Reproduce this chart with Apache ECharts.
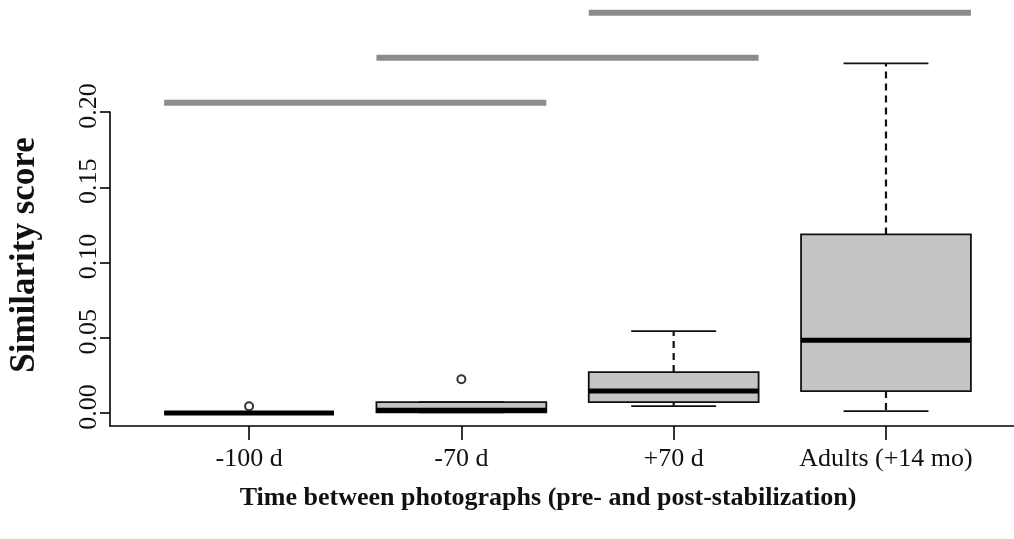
<!DOCTYPE html>
<html>
<head>
<meta charset="utf-8">
<script src="https://cdn.jsdelivr.net/npm/echarts@6/dist/echarts.min.js"></script>
<style>
  html, body { margin: 0; padding: 0; background: #ffffff; }
  #chart { width: 1014px; height: 539px; }
</style>
</head>
<body>
<div id="chart"></div>
<script>
// groups on the x axis
const categories = ["-100 d", "-70 d", "+70 d", "Adults (+14 mo)"];

// five-number summaries: [min, q1, median, q3, max]
const boxMin = [0.0, 0.0005, 0.0046, 0.0013];
const boxQ1 = [0.0, 0.0005, 0.0073, 0.0146];
const boxMedian = [0.0, 0.0018, 0.0146, 0.0484];
const boxQ3 = [0.0, 0.0073, 0.0272, 0.1187];
const boxMax = [0.0, 0.0073, 0.0544, 0.2323];

// outliers: group index (1-based) and value
const outlierGroup = [1, 2];
const outlierValue = [0.0045, 0.0225];

// significance bars: from group, to group, height
const barFrom = [1, 2, 3];
const barTo = [2, 3, 4];
const barLevel = [0.2062, 0.2361, 0.2659];

const yTicks = [0, 0.05, 0.1, 0.15, 0.2];
const xTicks = [1, 2, 3, 4];

const serif = '"Liberation Serif", "DejaVu Serif", "Times New Roman", serif';
const boxHalf = 0.4;
const stapleHalf = 0.2;

const boxData = categories.map((c, i) => [i + 1, boxMin[i], boxQ1[i], boxMedian[i], boxQ3[i], boxMax[i]]);
const outlierData = outlierGroup.map((g, i) => [g, outlierValue[i]]);
const barData = barFrom.map((f, i) => [f, barTo[i], barLevel[i]]);

function renderBox(params, api) {
  const x = api.value(0);
  const mn = api.value(1), q1 = api.value(2), md = api.value(3), q3 = api.value(4), mx = api.value(5);
  const pt = (xx, yy) => api.coord([xx, yy]);
  const children = [];
  const dash = { stroke: "#111", lineWidth: 2.2, lineDash: [7, 5], fill: null };
  const solid = { stroke: "#111", lineWidth: 1.8, fill: null };
  // whiskers
  if (mx > q3) {
    const a = pt(x, q3), b = pt(x, mx);
    children.push({ type: "line", shape: { x1: a[0], y1: a[1], x2: b[0], y2: b[1] }, style: dash });
  }
  if (mn < q1) {
    const a = pt(x, q1), b = pt(x, mn);
    children.push({ type: "line", shape: { x1: a[0], y1: a[1], x2: b[0], y2: b[1] }, style: dash });
  }
  // staples
  [mn, mx].forEach(v => {
    const a = pt(x - stapleHalf, v), b = pt(x + stapleHalf, v);
    children.push({ type: "line", shape: { x1: a[0], y1: a[1], x2: b[0], y2: b[1] }, style: solid });
  });
  // box
  const tl = pt(x - boxHalf, q3), br = pt(x + boxHalf, q1);
  children.push({
    type: "rect",
    shape: { x: tl[0], y: tl[1], width: br[0] - tl[0], height: br[1] - tl[1] },
    style: { fill: "#c4c4c4", stroke: "#111", lineWidth: 1.8 }
  });
  // median
  const m1 = pt(x - boxHalf, md), m2 = pt(x + boxHalf, md);
  children.push({ type: "line", shape: { x1: m1[0], y1: m1[1], x2: m2[0], y2: m2[1] }, style: { stroke: "#000", lineWidth: 5 } });
  return { type: "group", children };
}

function renderBar(params, api) {
  const a = api.coord([api.value(0) - boxHalf, api.value(2)]);
  const b = api.coord([api.value(1) + boxHalf, api.value(2)]);
  return {
    type: "line",
    shape: { x1: a[0], y1: a[1], x2: b[0], y2: b[1] },
    style: { stroke: "#8c8c8c", lineWidth: 6 }
  };
}

const chart = echarts.init(document.getElementById("chart"), null, { renderer: "canvas" });
chart.setOption({
  animation: false,
  backgroundColor: "#ffffff",
  grid: { left: 110, right: 0, top: 112, bottom: 113 },
  xAxis: {
    type: "value",
    min: 0.345,
    max: 4.603,
    axisLine: { show: true, onZero: false, lineStyle: { color: "#000", width: 1.6 } },
    axisTick: { show: true, length: 14, customValues: xTicks, lineStyle: { color: "#000", width: 1.6 } },
    axisLabel: {
      customValues: xTicks,
      formatter: v => categories[Math.round(v) - 1],
      margin: 20,
      color: "#111",
      fontFamily: serif,
      fontSize: 26
    },
    splitLine: { show: false }
  },
  yAxis: {
    type: "value",
    min: -0.0086,
    max: 0.2,
    axisLine: { show: true, lineStyle: { color: "#000", width: 1.6 } },
    axisTick: { show: true, length: 10, customValues: yTicks, lineStyle: { color: "#000", width: 1.6 } },
    axisLabel: {
      customValues: yTicks,
      formatter: v => v.toFixed(2),
      rotate: 90,
      margin: 8,
      padding: [0, 0, 0, 12],
      color: "#111",
      fontFamily: serif,
      fontSize: 26
    },
    splitLine: { show: false }
  },
  graphic: [
    {
      type: "text",
      x: 25,
      y: 255,
      rotation: Math.PI / 2,
      style: {
        text: "Similarity score",
        font: "bold 35px " + serif,
        fill: "#111",
        align: "center",
        verticalAlign: "middle"
      }
    },
    {
      type: "text",
      x: 548,
      y: 498,
      style: {
        text: "Time between photographs (pre- and post-stabilization)",
        font: "bold 26px " + serif,
        fill: "#111",
        align: "center",
        verticalAlign: "middle"
      }
    }
  ],
  series: [
    {
      type: "custom",
      name: "significance",
      renderItem: renderBar,
      data: barData,
      clip: false,
      silent: true
    },
    {
      type: "custom",
      name: "boxes",
      renderItem: renderBox,
      data: boxData,
      clip: false,
      silent: true,
      z: 3
    },
    {
      type: "scatter",
      name: "outliers",
      data: outlierData,
      symbol: "emptyCircle",
      symbolSize: 8,
      itemStyle: { color: "#000", borderColor: "#000", borderWidth: 1.5 },
      silent: true,
      z: 4
    }
  ]
});
</script>
</body>
</html>
